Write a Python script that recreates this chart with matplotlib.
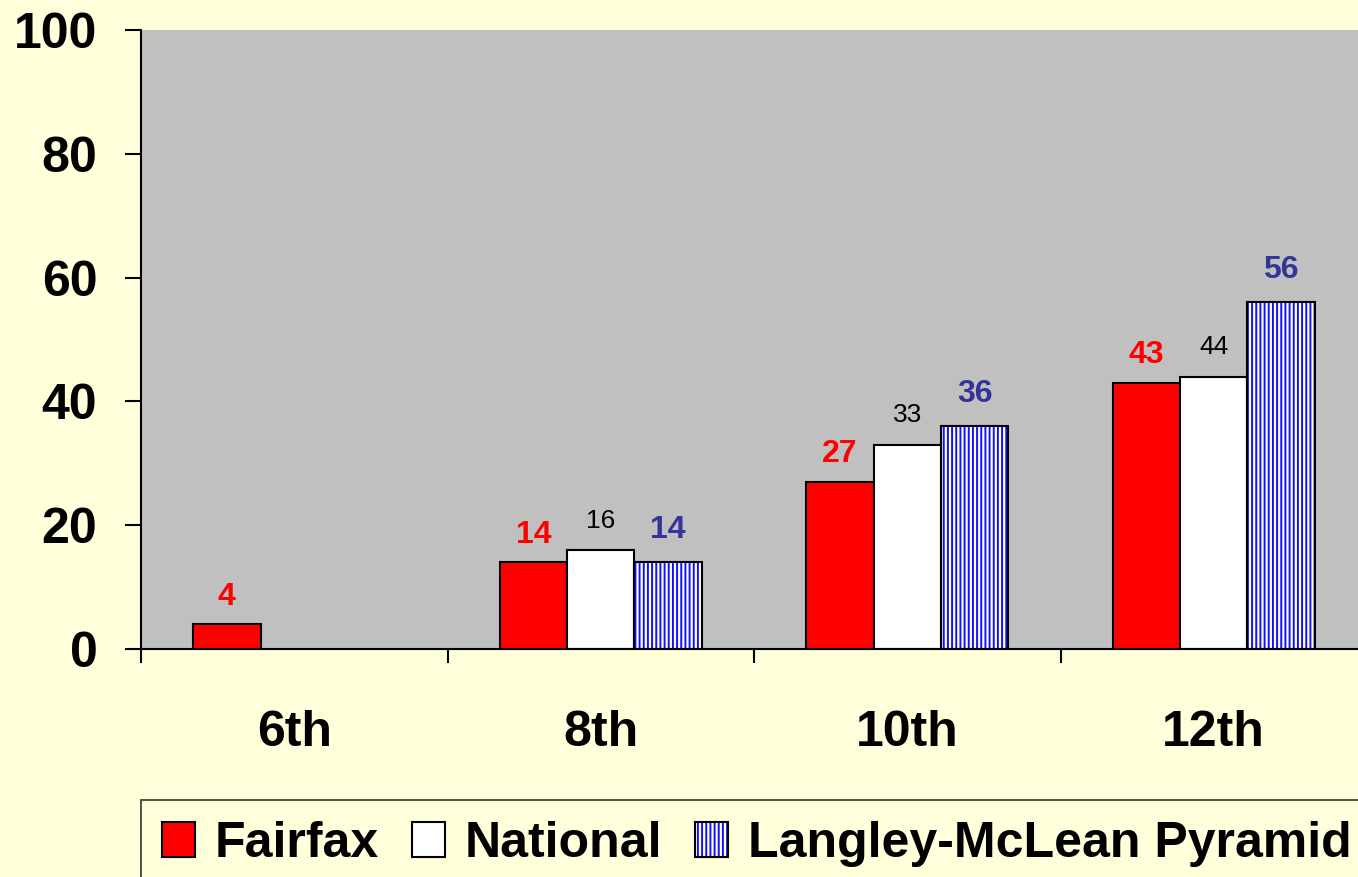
import numpy as np
import matplotlib
matplotlib.use("Agg")
from matplotlib import pyplot as plt
from matplotlib.patches import Rectangle
from matplotlib.legend_handler import HandlerTuple

grades = ["6th", "8th", "10th", "12th"]
fairfax = [4, 14, 27, 43]
national = [None, 16, 33, 44]
langley = [None, 14, 36, 56]
series_names = ["Fairfax", "National", "Langley-McLean Pyramid"]

bg = "#FFFFDC"
plt.rcParams['font.family'] = ['Liberation Sans', 'DejaVu Sans']
plt.rcParams['hatch.linewidth'] = 1.4

fig = plt.figure(figsize=(13.58, 8.77), dpi=100, facecolor=bg)
ax = fig.add_axes([141 / 1358, 1 - 649 / 877, 1226 / 1358, 619 / 877])
ax.set_facecolor("#C0C0C0")

x = np.arange(len(grades))
w = 0.22

def valid(vals):
    idx = [i for i, v in enumerate(vals) if v is not None]
    return idx, [vals[i] for i in idx]

i_f, v_f = valid(fairfax)
i_n, v_n = valid(national)
i_l, v_l = valid(langley)

ax.bar(x[i_f] - w, v_f, w, color="#FF0000", edgecolor="black", linewidth=1.5)
ax.bar(x[i_n], v_n, w, color="white", edgecolor="black", linewidth=1.5)
ax.bar(x[i_l] + w, v_l, w, color="white", edgecolor="#1010FF", hatch="||||", linewidth=0)
ax.bar(x[i_l] + w, v_l, w, fill=False, edgecolor="black", linewidth=1.5)

for xi, v in zip(x[i_f] - w, v_f):
    ax.text(xi, v + 2.0, str(v), ha="center", va="bottom", color="#FF0000", fontsize=23, fontweight="bold")
for xi, v in zip(x[i_n], v_n):
    ax.text(xi, v + 2.8, str(v), ha="center", va="bottom", color="black", fontsize=19)
for xi, v in zip(x[i_l] + w, v_l):
    ax.text(xi, v + 2.8, str(v), ha="center", va="bottom", color="#333399", fontsize=23, fontweight="bold")

ax.set_xlim(-0.5, 3.5)
ax.set_ylim(0, 100)
ax.set_yticks([0, 20, 40, 60, 80, 100])
ax.set_xticks(x)
ax.set_xticklabels(grades)
ax.set_xticks(np.arange(-0.5, 4.0, 1.0), minor=True)
ax.tick_params(axis="x", which="major", length=0, pad=44, labelsize=36)
ax.tick_params(axis="x", which="minor", length=10, width=1.5, direction="out")
ax.tick_params(axis="y", length=11.5, width=1.5, direction="out", pad=20, labelsize=36)
for lab in ax.get_xticklabels() + ax.get_yticklabels():
    lab.set_fontweight("bold")

for s in ["top", "right"]:
    ax.spines[s].set_visible(False)
for s in ["left", "bottom"]:
    ax.spines[s].set_linewidth(1.5)

# legend handles: hatched box with black outline for the pyramid series
h1 = Rectangle((0, 0), 1, 1, facecolor="#FF0000", edgecolor="black", linewidth=1.5)
h2 = Rectangle((0, 0), 1, 1, facecolor="white", edgecolor="black", linewidth=1.5)
h3a = Rectangle((0, 0), 1, 1, facecolor="white", edgecolor="#1010FF", hatch="||||", linewidth=0)
h3b = Rectangle((0, 0), 1, 1, fill=False, edgecolor="black", linewidth=1.5)
leg = fig.legend([h1, h2, (h3a, h3b)], series_names, loc="upper left",
                 bbox_to_anchor=(141 / 1358, 1 - 800 / 877),
                 handler_map={tuple: HandlerTuple(ndivide=1, pad=0)},
                 ncol=3, prop={"weight": "bold", "size": 36}, frameon=True, fancybox=False,
                 handlelength=0.66, handleheight=0.72, handletextpad=0.4, columnspacing=0.65,
                 borderpad=0.42, borderaxespad=0)
leg.get_frame().set_edgecolor("black")
leg.get_frame().set_facecolor(bg)
leg.get_frame().set_linewidth(1.2)

fig.savefig("out.png", dpi=100, facecolor=bg)
